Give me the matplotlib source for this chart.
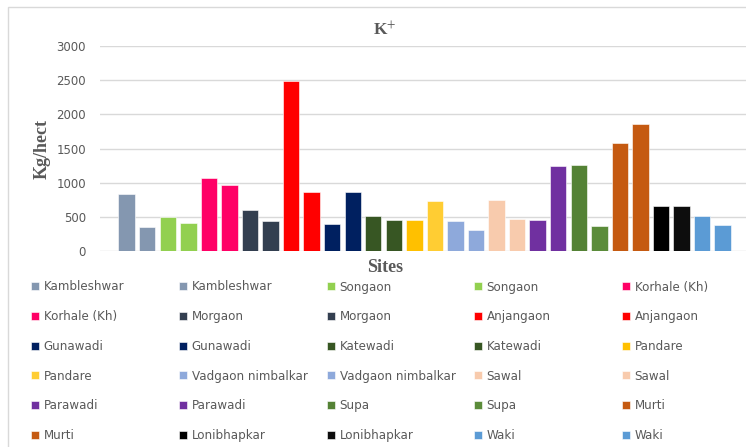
import matplotlib
matplotlib.use("Agg")
import matplotlib.pyplot as plt
from matplotlib.patches import Rectangle

# Data (each bar is its own series, Excel style)
sites = [
    "Kambleshwar", "Kambleshwar", "Songaon", "Songaon", "Korhale (Kh)",
    "Korhale (Kh)", "Morgaon", "Morgaon", "Anjangaon", "Anjangaon",
    "Gunawadi", "Gunawadi", "Katewadi", "Katewadi", "Pandare",
    "Pandare", "Vadgaon nimbalkar", "Vadgaon nimbalkar", "Sawal", "Sawal",
    "Parawadi", "Parawadi", "Supa", "Supa", "Murti",
    "Murti", "Lonibhapkar", "Lonibhapkar", "Waki", "Waki",
]
k_values = [
    840, 360, 500, 420, 1070,
    975, 605, 445, 2490, 865,
    405, 865, 515, 460, 460,
    730, 445, 310, 745, 470,
    460, 1245, 1260, 375, 1585,
    1860, 660, 660, 515, 390,
]
colors = [
    "#8497B0", "#8497B0", "#92D050", "#92D050", "#FF0066",
    "#FF0066", "#333F50", "#333F50", "#FF0000", "#FF0000",
    "#002060", "#002060", "#375623", "#375623", "#FFC000",
    "#FFCD33", "#8EA9DB", "#8EA9DB", "#F8CBAD", "#F8CBAD",
    "#7030A0", "#7030A0", "#548235", "#5B8C3A", "#C55A11",
    "#C55A11", "#000000", "#0D0D0D", "#5B9BD5", "#5B9BD5",
]

W, H = 746, 447
fig = plt.figure(figsize=(W / 100, H / 100), dpi=100)
fig.patch.set_facecolor("white")

# chart area border (runs off the right and bottom of the picture)
fig.add_artist(Rectangle((8 / W, -0.2), 1.2, 1.2 - 7 / H, transform=fig.transFigure,
                         fill=False, edgecolor="#D9D9D9", linewidth=1))

ax = fig.add_axes([100 / W, (H - 251.3) / H, 1 - 100 / W, (251.3 - 46) / H])

handles = []
for i, (name, val, col) in enumerate(zip(sites, k_values, colors)):
    b = ax.bar(i, val, width=0.8, color=col, edgecolor="white", linewidth=0.4, label=name)
    handles.append(b)

ax.set_xlim(-1.3, 30.14)
ax.set_ylim(0, 3000)
ax.set_yticks(range(0, 3001, 500))
ax.set_xticks([])
ax.yaxis.grid(True, color="#D9D9D9", linewidth=1)
ax.set_axisbelow(True)
for s in ax.spines.values():
    s.set_visible(False)
ax.tick_params(axis="y", length=0, pad=10, labelsize=8.5, labelcolor="#595959")

plt.rcParams["mathtext.fontset"] = "stix"
fig.text(385 / W, 1 - 30 / H, "K$^{+}$", ha="center", va="center",
         family="Liberation Serif", weight="bold", fontsize=12.5, color="#595959")
fig.text(385 / W, 1 - 268 / H, "Sites", ha="center", va="center",
         family="Liberation Serif", weight="bold", fontsize=13, color="#595959")
fig.text(42 / W, 1 - 149 / H, "Kg/hect", ha="center", va="center", rotation=90,
         family="Liberation Serif", weight="bold", fontsize=13, color="#595959")

# legend laid out row by row in 5 equal columns
col_x = [31, 179, 327, 474, 622]
for c in range(5):
    leg = fig.legend(handles[c::5], sites[c::5], loc="upper left",
                     bbox_to_anchor=(col_x[c] / W, 1 - 280.5 / H),
                     frameon=False, fontsize=8.6, handlelength=0.65, handleheight=0.65,
                     handletextpad=0.4, labelspacing=1.4, borderaxespad=0,
                     borderpad=0)
    for t in leg.get_texts():
        t.set_color("#595959")

fig.savefig("out.png", dpi=100)
